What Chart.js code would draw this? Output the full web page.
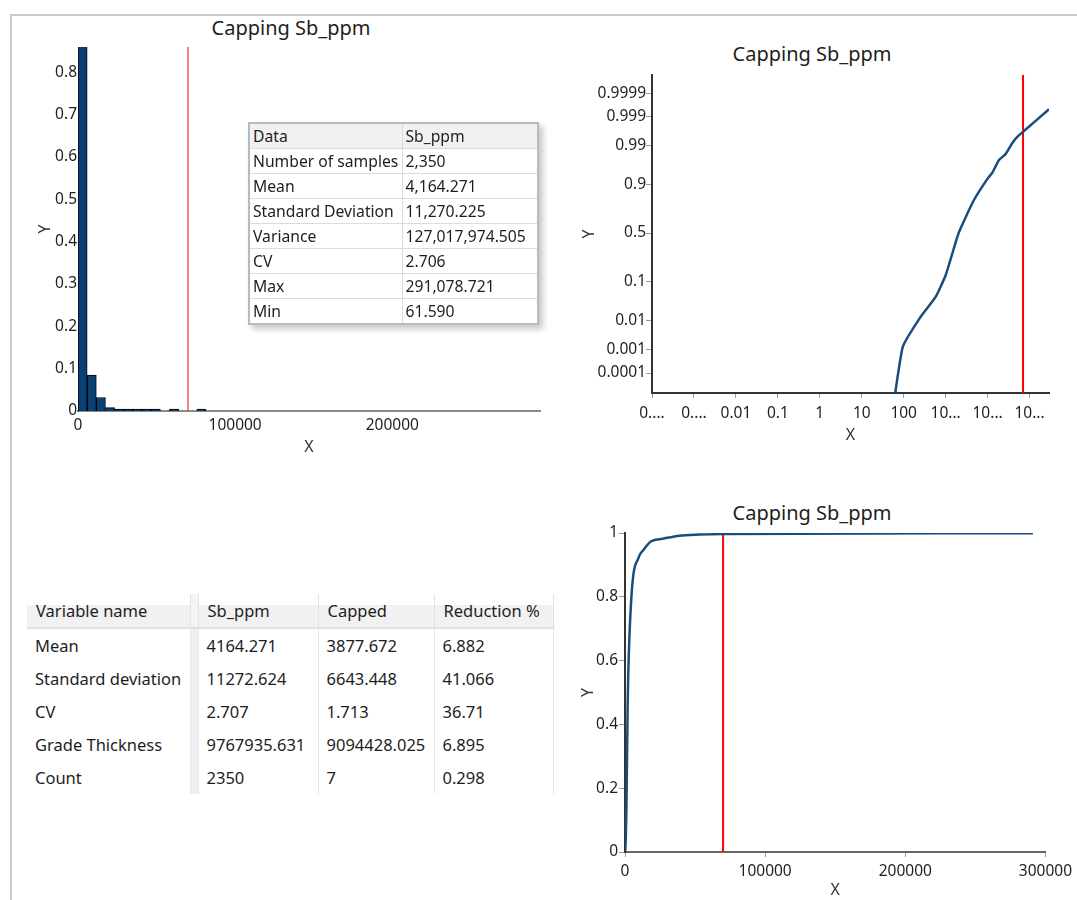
<!DOCTYPE html>
<html>
<head>
<meta charset="utf-8">
<title>Capping Sb_ppm</title>
<script src="https://cdn.jsdelivr.net/npm/chart.js@4.4.1/dist/chart.umd.min.js"></script>
<style>
  body { margin: 0; background: #fff; font-family: "Segoe UI", "Noto Sans", sans-serif; color: #1e1e1e; }
  #frame { position: absolute; left: 10px; top: 14px; width: 1067px; height: 886px;
           border-left: 2px solid #cacaca; border-top: 2px solid #cacaca; }
  canvas { position: absolute; }
  .ttl { position: absolute; font-size: 20px; transform: translateX(-50%); white-space: nowrap; line-height: 1; }
  #stats { position: absolute; left: 248px; top: 122px; border-collapse: collapse; background: #fff;
           table-layout: fixed; width: 289px;
           border: 2px solid #b3bcc6; box-shadow: 4px 4px 6px rgba(0,0,0,0.22); font-size: 15.7px; }
  #stats td { border: 1px solid #dcdcdc; height: 24px; padding: 0 3px; white-space: nowrap; overflow: hidden; }
  #stats tr:first-child td { background: #f1f1f1; }
  #capTable { position: absolute; left: 27px; top: 594px; border-collapse: collapse; font-size: 16.5px;
              table-layout: fixed; width: 526px; }
  #capTable th { font-weight: normal; text-align: left; height: 34px; padding: 0 0 0 9px; box-sizing: border-box;
                 background: linear-gradient(#ffffff 0%, #ffffff 33%, #f1f1f1 34%, #f1f1f1 100%);
                 border-bottom: 2px solid #e1e1e1; border-right: 1px solid #e3e3e3; }
  #capTable td { height: 33px; padding: 0 0 0 8px; border-right: 1px solid #e8e8e8; white-space: nowrap; }
  #capTable .sep { padding: 0; background: #efefef; border-left: 1px solid #d8d8d8; }
  #capTable th.sep { background: #f4f4f4; border-left: 1px solid #cfcfcf; padding: 0; }
</style>
</head>
<body>
<div id="frame"></div>

<div class="ttl" style="left:291px; top:18px;">Capping Sb_ppm</div>
<div class="ttl" style="left:812px; top:44px;">Capping Sb_ppm</div>
<div class="ttl" style="left:812px; top:503px;">Capping Sb_ppm</div>

<canvas id="hist" width="530" height="450" style="left:30px; top:14px;"></canvas>
<canvas id="prob" width="507" height="415" style="left:570px; top:35px;"></canvas>
<canvas id="cdf" width="517" height="405" style="left:560px; top:495px;"></canvas>

<table id="stats"></table>
<table id="capTable"></table>

<script>
// ---- data ----
const capValue = 70000;
const dataMax = 291078.721;

// histogram: 50 equal bins from 0 to the max, relative frequency
const histBinWidth = 5821.574;
const histFreq = [
  0.862, 0.085, 0.032, 0.008, 0.003, 0.003, 0.001, 0.001, 0.001, null,
  0.001, null, null, 0.001, null, null, null, null, null, null,
  null, null, null, null, null, null, null, null, null, null,
  null, null, null, null, null, null, null, null, null, null,
  null, null, null, null, null, null, null, null, null, null
];
const histXTicks = [0, 100000, 200000];
const histYTicks = [0, 0.1, 0.2, 0.3, 0.4, 0.5, 0.6, 0.7, 0.8];

// cumulative distribution (grade, cumulative probability)
const cdfX = [61.59, 96, 253, 577, 1000, 1900, 2280, 4730, 9900, 13000, 18700, 26900, 38900, 53000, 71400, 291078.721];
const cdfP = [0.000008, 0.0013, 0.013, 0.045, 0.131, 0.46, 0.55, 0.81, 0.925, 0.946, 0.974, 0.982, 0.9916, 0.995, 0.9965, 0.9995];

const probYTicks = [0.0001, 0.001, 0.01, 0.1, 0.5, 0.9, 0.99, 0.999, 0.9999];
const probXTicks = [0.0001, 0.001, 0.01, 0.1, 1, 10, 100, 1000, 10000, 100000];
const probXLabels = ['0....', '0....', '0.01', '0.1', '1', '10', '100', '10...', '10...', '10...'];

const cdfXTicks = [0, 100000, 200000, 300000];
const cdfYTicks = [0, 0.2, 0.4, 0.6, 0.8, 1];

// summary statistics box
const statNames = ['Data', 'Number of samples', 'Mean', 'Standard Deviation', 'Variance', 'CV', 'Max', 'Min'];
const statValues = ['Sb_ppm', '2,350', '4,164.271', '11,270.225', '127,017,974.505', '2.706', '291,078.721', '61.590'];

// capping table
const capHeader = ['Variable name', 'Sb_ppm', 'Capped', 'Reduction %'];
const capRows = ['Mean', 'Standard deviation', 'CV', 'Grade Thickness', 'Count'];
const capOriginal = ['4164.271', '11272.624', '2.707', '9767935.631', '2350'];
const capCapped = ['3877.672', '6643.448', '1.713', '9094428.025', '7'];
const capReduction = ['6.882', '41.066', '36.71', '6.895', '0.298'];

// ---- tables ----
const stats = document.getElementById('stats');
const cg = document.createElement('colgroup');
cg.innerHTML = '<col style="width:153px"><col style="width:136px">';
stats.appendChild(cg);
statNames.forEach((n, i) => {
  const tr = stats.insertRow();
  tr.insertCell().textContent = n;
  tr.insertCell().textContent = statValues[i];
});

const capTable = document.getElementById('capTable');
capTable.innerHTML = '<colgroup><col style="width:163px"><col style="width:8px"><col style="width:120px">' +
  '<col style="width:116px"><col style="width:119px"></colgroup>';
const hr = capTable.insertRow();
capHeader.forEach((h, i) => {
  const th = document.createElement('th');
  th.textContent = h;
  hr.appendChild(th);
  if (i === 0) {
    const s = document.createElement('th');
    s.className = 'sep';
    hr.appendChild(s);
  }
});
capRows.forEach((n, i) => {
  const tr = capTable.insertRow();
  tr.insertCell().textContent = n;
  tr.insertCell().className = 'sep';
  tr.insertCell().textContent = capOriginal[i];
  tr.insertCell().textContent = capCapped[i];
  tr.insertCell().textContent = capReduction[i];
});

// ---- helpers ----
// inverse standard normal (Acklam) for the probability axis
function probit(p) {
  const a = [-39.69683028665376, 220.9460984245205, -275.9285104469687, 138.3577518672690, -30.66479806614716, 2.506628277459239];
  const b = [-54.47609879822406, 161.5858368580409, -155.6989798598866, 66.80131188771972, -13.28068155288572];
  const c = [-0.007784894002430293, -0.3223964580411365, -2.400758277161838, -2.549732539343734, 4.374664141464968, 2.938163982698783];
  const d = [0.007784695709041462, 0.3224671290700398, 2.445134137142996, 3.754408661907416];
  const lo = 0.02425;
  let q, r;
  if (p < lo) {
    q = Math.sqrt(-2 * Math.log(p));
    return (((((c[0]*q+c[1])*q+c[2])*q+c[3])*q+c[4])*q+c[5]) / ((((d[0]*q+d[1])*q+d[2])*q+d[3])*q+1);
  }
  if (p <= 1 - lo) {
    q = p - 0.5; r = q * q;
    return (((((a[0]*r+a[1])*r+a[2])*r+a[3])*r+a[4])*r+a[5])*q / (((((b[0]*r+b[1])*r+b[2])*r+b[3])*r+b[4])*r+1);
  }
  q = Math.sqrt(-2 * Math.log(1 - p));
  return -(((((c[0]*q+c[1])*q+c[2])*q+c[3])*q+c[4])*q+c[5]) / ((((d[0]*q+d[1])*q+d[2])*q+d[3])*q+1);
}

Chart.defaults.font.family = '"Segoe UI", "Noto Sans", sans-serif';
Chart.defaults.font.size = 15.5;
Chart.defaults.color = '#1e1e1e';

const blue = '#1a4d7c';
const red = '#ff0000';
const fixTicks = list => s => { s.ticks = list.map(v => ({ value: v })); };
const plain = v => String(Math.round(v * 10) / 10);
const axisTitle = (text, pad) => ({ display: true, text: text, font: { size: 16 }, color: '#333', padding: pad });
const baseOpts = {
  responsive: false,
  animation: false,
  events: [],
  plugins: { legend: { display: false }, title: { display: false }, tooltip: { enabled: false } }
};

// ---- histogram ----
new Chart(document.getElementById('hist'), {
  type: 'bar',
  data: {
    datasets: [{
      type: 'bar',
      data: histFreq.map((v, i) => ({ x: (i + 0.5) * histBinWidth, y: v })),
      backgroundColor: '#0a4175',
      borderColor: '#000',
      borderWidth: 1,
      barPercentage: 1,
      categoryPercentage: 1,
      minBarLength: 2
    }, {
      type: 'line',
      data: [{ x: capValue, y: 0 }, { x: capValue, y: 0.86 }],
      borderColor: red,
      borderWidth: 1,
      pointRadius: 0
    }]
  },
  options: Object.assign({}, baseOpts, {
    layout: { padding: { top: 33, right: 20, left: 0, bottom: 0 } },
    scales: {
      x: {
        type: 'linear', min: 0, max: 294000, offset: false,
        grid: { display: false, drawTicks: false },
        border: { color: '#8a8a8a', width: 2 },
        ticks: { padding: 5, maxRotation: 0, callback: plain },
        afterBuildTicks: fixTicks(histXTicks),
        afterFit: s => { s.height = 53; },
        title: axisTitle('X', { top: 0, bottom: 7 })
      },
      y: {
        min: 0, max: 0.86,
        grid: { display: false, drawTicks: false },
        border: { color: '#444', width: 1 },
        ticks: { padding: 1, callback: plain },
        afterBuildTicks: fixTicks(histYTicks),
        afterFit: s => { s.width = 48; },
        title: axisTitle('Y', { top: 6, bottom: 0 })
      }
    }
  })
});

// ---- probability plot ----
const zMin = -4.25, zMax = 4.2;
new Chart(document.getElementById('prob'), {
  type: 'line',
  data: {
    datasets: [{
      data: cdfX.map((x, i) => ({ x: x, y: probit(cdfP[i]) })),
      borderColor: blue,
      borderWidth: 2.5,
      pointRadius: 0,
      tension: 0.15
    }, {
      data: [{ x: capValue, y: zMin }, { x: capValue, y: zMax }],
      borderColor: red,
      borderWidth: 2,
      pointRadius: 0
    }]
  },
  options: Object.assign({}, baseOpts, {
    layout: { padding: { top: 40, right: 28, left: 0, bottom: 0 } },
    scales: {
      x: {
        type: 'logarithmic', min: 0.0001, max: dataMax,
        grid: { display: true, drawOnChartArea: false, drawTicks: true, tickLength: 5, color: '#999' },
        border: { color: '#333', width: 2 },
        ticks: { padding: 6, maxRotation: 0, autoSkip: false, callback: (v, i) => probXLabels[i] },
        afterBuildTicks: fixTicks(probXTicks),
        afterFit: s => { s.height = 57; },
        title: axisTitle('X', { top: 0, bottom: 5 })
      },
      y: {
        type: 'linear', min: zMin, max: zMax,
        grid: { display: true, drawOnChartArea: false, drawTicks: true, tickLength: 6, color: '#999' },
        border: { color: '#333', width: 2 },
        ticks: { padding: 0, autoSkip: false, callback: (v, i) => String(probYTicks[i]) },
        afterBuildTicks: s => { s.ticks = probYTicks.map(p => ({ value: probit(p) })); },
        afterFit: s => { s.width = 82; },
        title: axisTitle('Y', { top: 10, bottom: 0 })
      }
    }
  })
});

// ---- cumulative distribution ----
new Chart(document.getElementById('cdf'), {
  type: 'line',
  data: {
    datasets: [{
      data: cdfX.map((x, i) => ({ x: x, y: cdfP[i] })),
      borderColor: blue,
      borderWidth: 2.5,
      pointRadius: 0,
      cubicInterpolationMode: 'monotone'
    }, {
      data: [{ x: capValue, y: 0 }, { x: capValue, y: 1 }],
      borderColor: red,
      borderWidth: 2,
      pointRadius: 0
    }]
  },
  options: Object.assign({}, baseOpts, {
    layout: { padding: { top: 38, right: 28, left: 0, bottom: 0 } },
    scales: {
      x: {
        type: 'linear', min: 0, max: 300000,
        grid: { display: true, drawOnChartArea: false, drawTicks: true, tickLength: 5, color: '#999' },
        border: { color: '#666', width: 2 },
        ticks: { padding: 5, maxRotation: 0, autoSkip: false, callback: plain },
        afterBuildTicks: fixTicks(cdfXTicks),
        afterFit: s => { s.height = 48; },
        title: axisTitle('X', { top: 0, bottom: 0 })
      },
      y: {
        min: 0, max: 1,
        grid: { display: true, drawOnChartArea: false, drawTicks: true, tickLength: 6, color: '#999' },
        border: { color: '#333', width: 2 },
        ticks: { padding: 1, autoSkip: false, callback: plain },
        afterBuildTicks: fixTicks(cdfYTicks),
        afterFit: s => { s.width = 65; },
        title: axisTitle('Y', { top: 19, bottom: 0 })
      }
    }
  })
});
</script>
</body>
</html>
